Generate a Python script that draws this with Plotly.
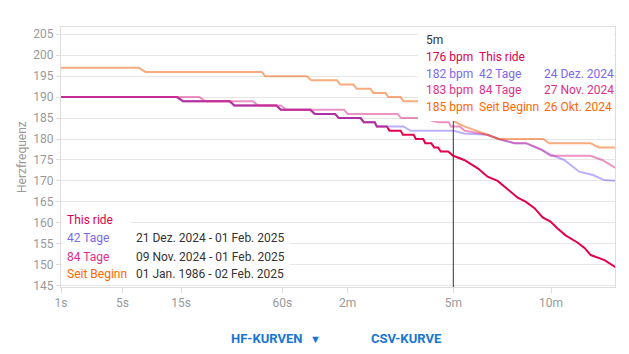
import plotly.graph_objects as go

# ---------------- data ----------------
tick_seconds = [1, 5, 15, 60, 120, 300, 600]
tick_labels = ["1s", "5s", "15s", "60s", "2m", "5m", "10m"]
y_ticks = [145, 150, 155, 160, 165, 170, 175, 180, 185, 190, 195, 200, 205]

ride_t = [1, 14, 15.5, 31, 33, 56, 59, 82, 86, 106, 110, 136, 140, 155, 158, 173, 177, 195, 199,
          218, 222, 236, 240, 252, 258, 266, 272, 288, 300, 326, 361, 388, 417, 448, 480, 508,
          538, 568, 598, 625, 659, 710, 742, 771, 838, 898]
ride_hr = [190, 190, 189, 189, 188, 188, 187, 187, 186, 186, 185, 185, 184, 184, 183, 183, 182, 182, 181,
           181, 180, 180, 179, 179, 178, 178, 177, 177, 176, 175, 173, 171, 170, 168, 166, 165,
           163.5, 161.3, 160.3, 158.7, 157, 155.3, 154, 152.3, 151.1, 149.3]

d42_t = [1, 14, 15.5, 31, 33, 56, 59, 82, 86, 106, 110, 136, 140, 155, 158, 200, 212, 300, 326,
         388, 420, 470, 508, 562, 598, 653, 718, 782, 836, 898]
d42_hr = [190, 190, 189, 189, 188, 188, 187, 187, 186, 186, 185, 185, 184, 184, 183, 183, 182, 182, 181.3,
          181, 180, 179, 179, 177.5, 176.3, 175, 172.2, 171.4, 170.2, 170]

d84_t = [1, 20, 22, 42, 45, 59, 63, 116, 120, 190, 196, 231, 250, 266, 290, 294, 315, 327,
         388, 420, 470, 508, 562, 598, 770, 826, 898]
d84_hr = [190, 190, 189, 189, 188, 188, 187, 187, 186, 186, 185, 185, 184.5, 184, 184, 183, 183, 182,
          181, 180, 179, 179, 177.5, 176, 176, 175, 173]

all_t = [1, 7, 8, 47, 49, 79, 83, 108, 112, 127, 131, 149, 153, 171, 175, 195, 200, 231, 236,
         250, 300, 305, 327, 388, 420, 570, 593, 770, 810, 898]
all_hr = [197, 197, 196, 196, 195, 195, 194, 194, 193, 193, 192, 192, 191, 191, 190, 190, 189, 189, 188,
          188, 185, 184, 183, 181, 180, 180, 179, 179, 178, 178]

series_names = ["This ride", "42 Tage", "84 Tage", "Seit Beginn"]
series_ranges = ["", "21 Dez. 2024 - 01 Feb. 2025", "09 Nov. 2024 - 01 Feb. 2025", "01 Jan. 1986 - 02 Feb. 2025"]
hover_label = "5m"
hover_t = 300
hover_bpm = [176, 182, 183, 185]
hover_dates = ["", "24 Dez. 2024", "27 Nov. 2024", "26 Okt. 2024"]
y_title = "Herzfrequenz"

text_colors = ["#e0004d", "#7b68ee", "#de2f88", "#ff6600"]
line_colors = ["#e2004f", "#7b61ff", "#dd2a8a", "#f55a00"]

# ---------------- helpers ----------------
def sx(t):
    return t ** 0.25  # power scale used by the original x axis

W, H = 629, 354
ML, MR, MT, MB = 61, 14, 27, 67
PW, PH = W - ML - MR, H - MT - MB

def px(x):
    return (x - ML) / PW

def py(y):
    return (H - MB - y) / PH

FONT = "Roboto, 'Noto Sans', Arial, sans-serif"

fig = go.Figure()
order = [(ride_t, ride_hr, 0, 1.0), (d42_t, d42_hr, 1, 0.5), (d84_t, d84_hr, 2, 0.5), (all_t, all_hr, 3, 0.5)]
for ts, hrs, i, op in order:
    fig.add_trace(go.Scatter(
        x=[sx(t) for t in ts], y=hrs, mode="lines", name=series_names[i],
        line=dict(color=line_colors[i], width=2), opacity=op, hoverinfo="skip"))

shapes = []
# tooltip box
shapes.append(dict(type="rect", xref="paper", yref="paper", x0=px(418), x1=px(614), y0=py(121), y1=py(28),
                   fillcolor="white", line=dict(width=0), layer="above"))
# legend boxes
shapes.append(dict(type="rect", xref="paper", yref="paper", x0=px(62.5), x1=px(131), y0=py(229), y1=py(210),
                   fillcolor="white", line=dict(width=0), layer="above"))
shapes.append(dict(type="rect", xref="paper", yref="paper", x0=px(62.5), x1=px(290), y0=py(284), y1=py(229),
                   fillcolor="white", line=dict(width=0), layer="above"))
# hover line
shapes.append(dict(type="line", xref="x", yref="paper", x0=sx(hover_t), x1=sx(hover_t), y0=0, y1=py(121),
                   line=dict(color="#333333", width=1), layer="above"))

ann = []
def add_text(x, y, s, color, size=12, xanchor="left", weight=None, angle=0):
    f = dict(family=FONT, size=size, color=color)
    if weight:
        f["weight"] = weight
    ann.append(dict(xref="paper", yref="paper", x=px(x), y=py(y), text=s, showarrow=False,
                    xanchor=xanchor, yanchor="middle", font=f, textangle=angle))

# tooltip
add_text(424, 40, hover_label, "#333333")
rows_y = [57, 74, 90, 107]
for i in range(4):
    add_text(424, rows_y[i], f"{hover_bpm[i]} bpm", text_colors[i])
    add_text(477, rows_y[i], series_names[i], text_colors[i])
    if hover_dates[i]:
        add_text(542, rows_y[i], hover_dates[i], text_colors[i])

# legend
leg_y = [219.5, 238, 256.5, 274]
for i in range(4):
    add_text(65, leg_y[i], series_names[i], text_colors[i])
    if series_ranges[i]:
        add_text(134, leg_y[i], series_ranges[i], "#333333")

# y axis title
add_text(22, 157, y_title, "#999999", xanchor="center", angle=-90)

# buttons
add_text(229, 338, "HF-KURVEN", "#1976d2", size=13, weight="bold")
add_text(315.5, 339, "▼", "#1976d2", size=11, xanchor="center")
add_text(369, 338, "CSV-KURVE", "#1976d2", size=13, weight="bold")

fig.update_layout(
    width=W, height=H, margin=dict(l=ML, r=MR, t=MT, b=MB),
    paper_bgcolor="white", plot_bgcolor="white", showlegend=False,
    font=dict(family=FONT, size=12, color="#999999"),
    shapes=shapes, annotations=ann,
    xaxis=dict(range=[1, 5.465], tickvals=[sx(t) for t in tick_seconds], ticktext=tick_labels,
               showgrid=False, zeroline=False, showline=True, linecolor="#dddddd", mirror=True,
               ticks="outside", ticklen=5, tickcolor="#dddddd", tickfont=dict(color="#999999", size=12)),
    yaxis=dict(range=[144.67, 206.74], tickvals=y_ticks, showgrid=True, gridcolor="#e6e6e6",
               zeroline=False, showline=True, linecolor="#dddddd", mirror=True,
               ticks="outside", ticklen=4, tickcolor="#dddddd", tickfont=dict(color="#999999", size=12)),
)

fig.write_html("out.html")
